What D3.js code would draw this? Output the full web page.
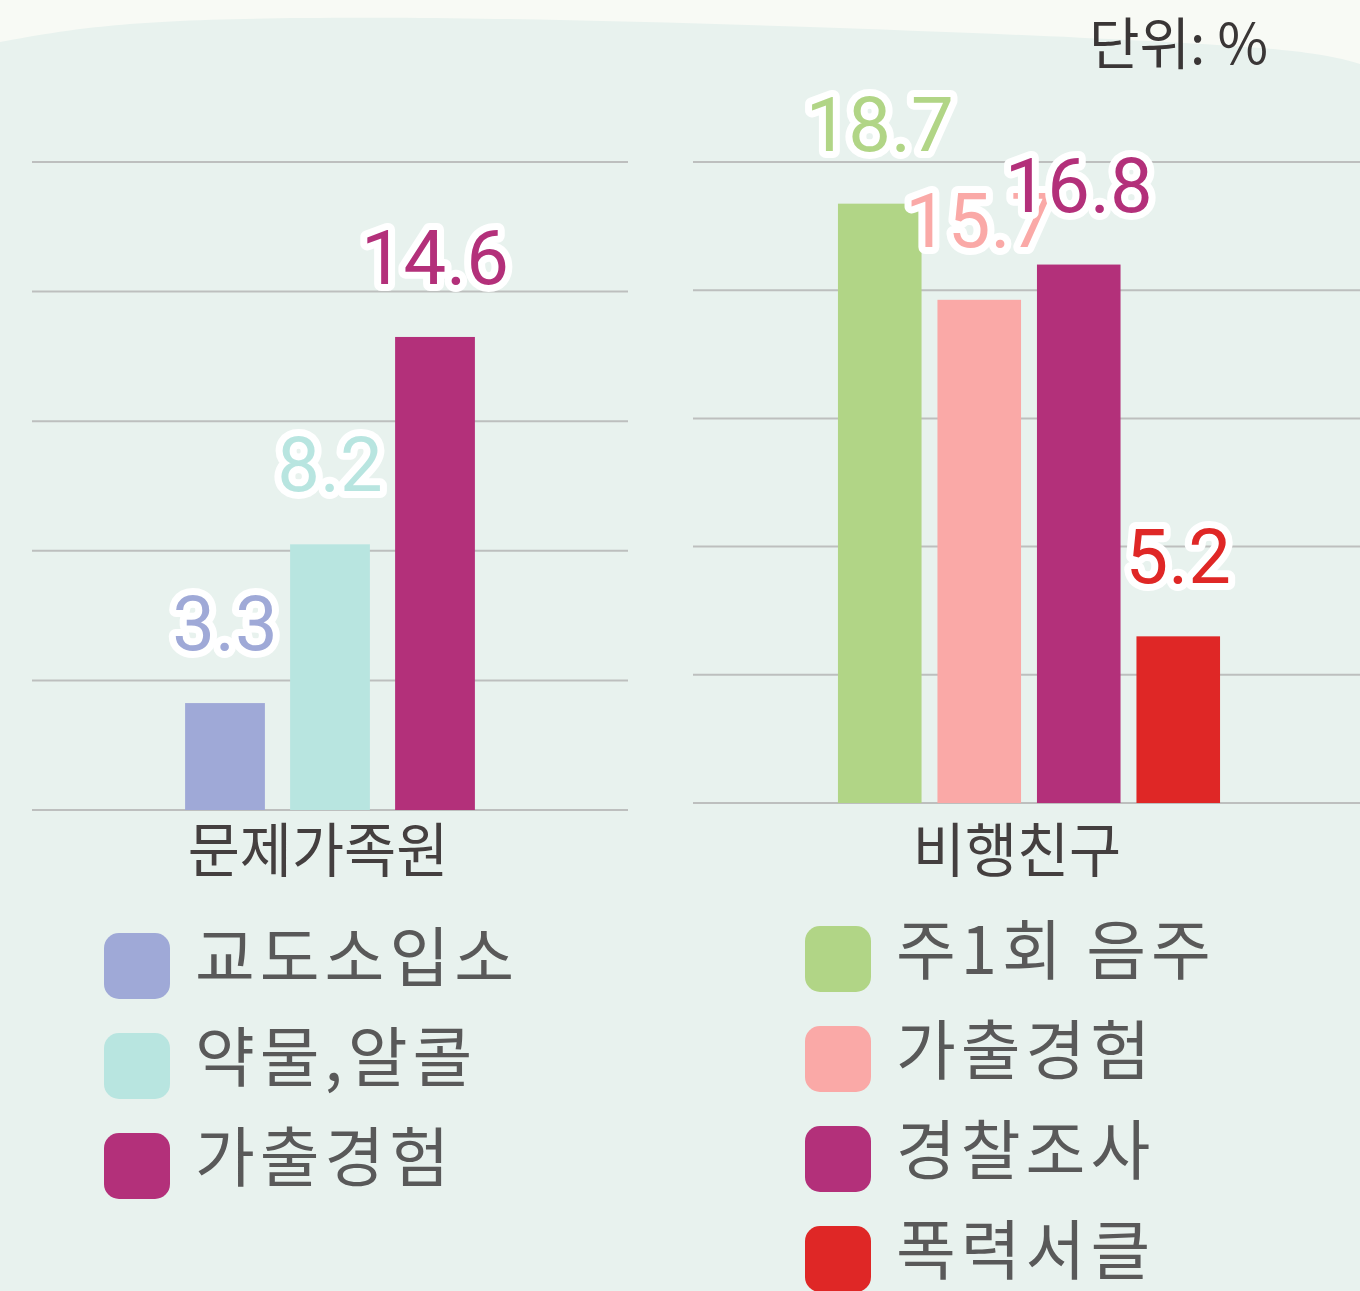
<!DOCTYPE html>
<html>
<head>
<meta charset="utf-8">
<script src="https://cdn.jsdelivr.net/npm/d3@7"></script>
<style>
  html, body { margin: 0; padding: 0; background: #f8faf5; }
  svg { display: block; }
</style>
</head>
<body>
<svg id="chart" width="1360" height="1291"></svg>
<script>
// Data
const familyCats = ["교도소입소", "약물,알콜", "가출경험"];
const familyVals = [3.3, 8.2, 14.6];
const familyColors = ["#9fa9d7", "#b8e5e0", "#b3307a"];

const friendCats = ["주1회 음주", "가출경험", "경찰조사", "폭력서클"];
const friendVals = [18.7, 15.7, 16.8, 5.2];
const friendColors = ["#b1d586", "#faa9a7", "#b3307a", "#df2726"];

const groupNames = ["문제가족원", "비행친구"];
const yTicks = [0, 4, 8, 12, 16, 20];

const svg = d3.select("#chart");
const W = 1360, H = 1291;
const numFont = "Roboto, 'Noto Sans', sans-serif";
const krFont = "'Noto Sans CJK KR', 'Noto Sans', sans-serif";

// background with wavy top edge
const wave = [[0, 42], [90, 26], [210, 18], [470, 17], [800, 26], [1100, 38], [1280, 48], [1340, 58], [1360, 64]];
const waveLine = d3.line().curve(d3.curveBasis);
svg.append("path")
  .attr("d", waveLine(wave) + `L${W},${H}L0,${H}Z`)
  .attr("fill", "#e8f2ee");

// one bar panel
function panel(cats, vals, colors, opt) {
  const y = d3.scaleLinear().domain([0, 20]).range([opt.base, 162]);
  const x = d3.scaleBand().domain(cats).range(opt.band)
    .paddingInner(opt.pad).paddingOuter(opt.pad / 2);
  const g = svg.append("g");

  g.selectAll("line.grid").data(yTicks).join("line")
    .attr("x1", opt.gx[0]).attr("x2", opt.gx[1])
    .attr("y1", d => y(d)).attr("y2", d => y(d))
    .attr("stroke", "#bdbfbe").attr("stroke-width", 2);

  g.selectAll("rect.bar").data(cats).join("rect")
    .attr("x", d => x(d)).attr("width", x.bandwidth())
    .attr("y", (d, i) => y(vals[i]))
    .attr("height", (d, i) => y(0) - y(vals[i]))
    .attr("fill", (d, i) => colors[i]);

  g.selectAll("text.val").data(cats).join("text")
    .attr("x", d => x(d) + x.bandwidth() / 2)
    .attr("y", (d, i) => y(vals[i]) - 53)
    .attr("text-anchor", "middle")
    .attr("font-family", numFont).attr("font-size", 76)
    .attr("fill", (d, i) => colors[i])
    .attr("stroke", "#fff").attr("stroke-width", 14)
    .attr("stroke-linejoin", "round").attr("paint-order", "stroke")
    .text((d, i) => vals[i].toFixed(1));

  // category label, slightly condensed
  g.append("text")
    .attr("transform", `translate(${opt.labelX},846) scale(0.96,1)`)
    .attr("text-anchor", "middle").attr("dominant-baseline", "central")
    .attr("font-family", krFont).attr("font-size", 59)
    .attr("fill", "#443f3f")
    .text(opt.name);

  // legend
  const lg = g.selectAll("g.leg").data(cats).join("g")
    .attr("transform", (d, i) => `translate(${opt.legX},${opt.legY + i * 100})`);
  lg.append("rect")
    .attr("width", 66).attr("height", 66).attr("rx", 15)
    .attr("fill", (d, i) => colors[i]);
  lg.append("text")
    .attr("x", 91).attr("y", 20)
    .attr("dominant-baseline", "central")
    .attr("font-family", krFont).attr("font-size", 65)
    .attr("letter-spacing", 5)
    .attr("fill", "#595959")
    .text(d => d);
}

panel(familyCats, familyVals, familyColors, {
  base: 810, band: [172.5, 487.5], pad: 0.24, gx: [32, 628],
  name: groupNames[0], labelX: 318, legX: 104, legY: 933
});
panel(friendCats, friendVals, friendColors, {
  base: 803, band: [830, 1228], pad: 0.16, gx: [693, 1360],
  name: groupNames[1], labelX: 1017, legX: 805, legY: 926
});

// unit note
svg.append("text")
  .attr("transform", "translate(1268,40) scale(0.98,1)")
  .attr("text-anchor", "end").attr("dominant-baseline", "central")
  .attr("font-family", krFont).attr("font-size", 56)
  .attr("fill", "#3a3636")
  .text("단위: %");
</script>
</body>
</html>
